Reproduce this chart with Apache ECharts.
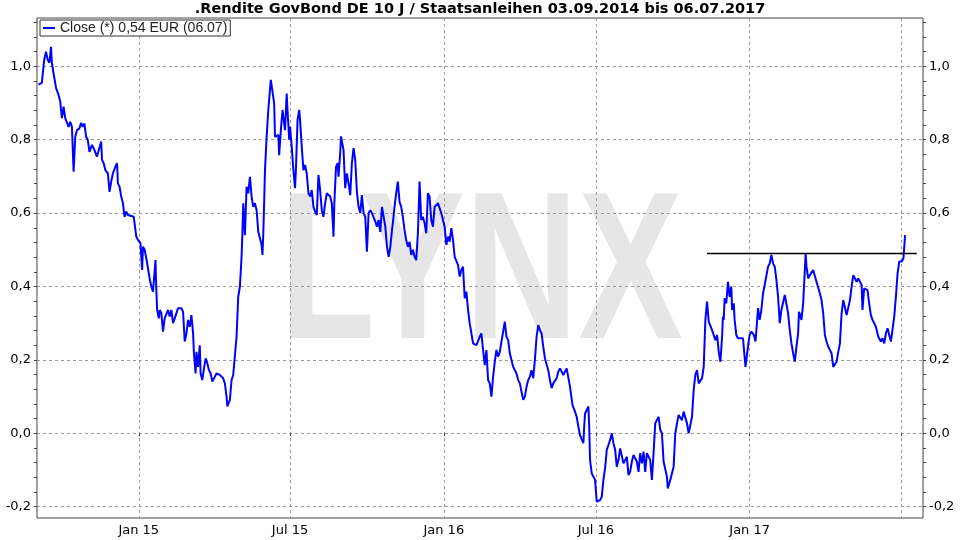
<!DOCTYPE html>
<html><head><meta charset="utf-8">
<script src="https://cdn.jsdelivr.net/npm/echarts@6/dist/echarts.min.js"></script>
<style>html,body{margin:0;padding:0;background:#fff}#c{width:960px;height:540px}</style>
</head><body><div id="c"></div>
<script>
const titleText = '.Rendite GovBond DE 10 J / Staatsanleihen 03.09.2014 bis 06.07.2017';
const seriesName = 'Close (*) 0,54 EUR (06.07)';
const watermarkText = 'LYNX';

const yLabelValues = [-0.2, 0, 0.2, 0.4, 0.6, 0.8, 1.0];
const yMinorValues = [-0.2,-0.16,-0.12,-0.08,-0.04,0,0.04,0.08,0.12,0.16,0.2,0.24,0.28,0.32,0.36,0.4,0.44,0.48,0.52,0.56,0.6,0.64,0.68,0.72,0.76,0.8,0.84,0.88,0.92,0.96,1.0,1.04,1.08,1.12];
const xTickDates = ['2015-01-01','2015-07-01','2016-01-01','2016-07-01','2017-01-01','2017-07-01'];
const xLabelDates = ['2015-01-01','2015-07-01','2016-01-01','2016-07-01','2017-01-01'];
const monthNames = ['Jan','Feb','Mär','Apr','Mai','Jun','Jul','Aug','Sep','Okt','Nov','Dez'];

const resistanceDates = ['2016-11-11','2017-07-20'];
const resistanceLevel = 0.49;

const d2014 = ['09-03','09-05','09-07','09-09','09-10','09-12','09-14','09-16','09-18','09-19','09-21','09-24','09-27','09-29',
'10-01','10-03','10-05','10-07','10-09','10-11','10-13','10-15','10-17','10-19','10-22','10-24','10-26','10-28','10-30',
'11-01','11-03','11-06','11-08','11-10','11-12','11-14','11-17','11-18','11-20','11-22','11-25','11-27','11-29',
'12-01','12-04','12-06','12-07','12-09','12-11','12-13','12-15','12-17','12-19','12-21','12-26','12-29','12-31'];
const v2014 = [0.95,0.95,0.955,1.00,1.02,1.04,1.017,1.01,1.053,1.009,0.981,0.941,0.922,0.904,
0.859,0.89,0.859,0.854,0.835,0.849,0.835,0.713,0.808,0.826,0.831,0.846,0.835,0.844,0.808,
0.799,0.767,0.786,0.777,0.781,0.754,0.758,0.795,0.745,0.736,0.717,0.708,0.658,0.686,
0.708,0.726,0.736,0.681,0.672,0.645,0.627,0.59,0.604,0.595,0.59,0.59,0.536,0.527];

const d2015 = ['01-03','01-05','01-06','01-08','01-10','01-12','01-14','01-16','01-18','01-21','01-22','01-23','01-25','01-26','01-28','01-30',
'02-01','02-03','02-05','02-07','02-09','02-11','02-13','02-15','02-17','02-21','02-23','02-25','02-27',
'03-01','03-03','03-05','03-07','03-08','03-10','03-11','03-13','03-15','03-16','03-18','03-20','03-22','03-24','03-26','03-28','03-30',
'04-02','04-04','04-08','04-12','04-14','04-16','04-17','04-20','04-22','04-24','04-26','04-28','04-30',
'05-02','05-04','05-05','05-06','05-08','05-10','05-12','05-14','05-16','05-18','05-20','05-22','05-24','05-26','05-28','05-29','05-30','05-31',
'06-01','06-03','06-05','06-07','06-08','06-10','06-12','06-13','06-15','06-17','06-18','06-20','06-22','06-23','06-25','06-27','06-28','06-30',
'07-01','07-03','07-05','07-07','07-08','07-10','07-12','07-13','07-15','07-17','07-19','07-21','07-23','07-25','07-27','07-29','07-31',
'08-02','08-04','08-06','08-08','08-10','08-12','08-14','08-16','08-18','08-20','08-22','08-23','08-25','08-27','08-28','08-30','08-31',
'09-03','09-05','09-07','09-09','09-11','09-13','09-15','09-17','09-19','09-21','09-23','09-25','09-27','09-29',
'10-01','10-03','10-05','10-07','10-09','10-11','10-13','10-15','10-17','10-19','10-21','10-23','10-25','10-27','10-29','10-31',
'11-01','11-03','11-05','11-07','11-09','11-11','11-13','11-15','11-17','11-19','11-21','11-23','11-25','11-27','11-29',
'12-01','12-03','12-05','12-07','12-09','12-11','12-13','12-15','12-17','12-19','12-21','12-23','12-25','12-27','12-29','12-31'];
const v2015 = [0.518,0.445,0.508,0.50,0.477,0.472,0.422,0.40,0.386,0.472,0.39,0.336,0.313,0.336,0.327,0.277,
0.313,0.318,0.336,0.318,0.336,0.30,0.313,0.318,0.341,0.341,0.331,0.25,0.272,
0.309,0.29,0.322,0.272,0.218,0.163,0.222,0.181,0.24,0.163,0.145,0.177,0.204,0.191,0.172,0.163,0.141,
0.154,0.163,0.159,0.15,0.136,0.10,0.073,0.091,0.145,0.159,0.163,0.263,0.372,
0.40,0.481,0.545,0.627,0.54,0.672,0.654,0.699,0.645,0.617,0.627,0.608,0.549,0.545,0.513,0.486,0.545,0.627,
0.717,0.808,0.881,0.886,0.963,0.931,0.899,0.808,0.804,0.813,0.758,0.826,0.881,0.863,0.826,0.926,0.881,0.80,
0.835,0.781,0.717,0.668,0.717,0.854,0.881,0.854,0.781,0.717,0.731,0.708,0.654,0.645,0.663,0.617,0.604,
0.595,0.704,0.663,0.608,0.59,0.627,0.654,0.658,0.645,0.627,0.536,0.627,0.726,0.736,0.699,0.763,0.809,
0.772,0.668,0.708,0.681,0.649,0.736,0.777,0.745,0.658,0.617,0.60,0.649,0.60,0.59,
0.495,0.60,0.608,0.60,0.604,0.577,0.563,0.581,0.549,0.617,0.59,0.563,0.508,0.481,0.508,0.554,
0.572,0.617,0.654,0.686,0.631,0.617,0.59,0.554,0.527,0.508,0.522,0.486,0.50,0.481,0.472,
0.545,0.686,0.581,0.59,0.572,0.545,0.654,0.645,0.581,0.563,0.617,0.617,0.627,0.622,0.60,0.581];

const d2016 = ['01-02','01-04','01-06','01-08','01-10','01-12','01-14','01-16','01-18','01-20','01-22','01-24','01-26','01-28','01-30',
'02-01','02-03','02-05','02-07','02-09','02-11','02-13','02-15','02-17','02-19','02-21','02-23','02-25','02-27','02-29',
'03-02','03-04','03-06','03-08','03-10','03-12','03-14','03-16','03-18','03-20','03-22','03-24','03-26','03-28','03-30',
'04-01','04-03','04-05','04-07','04-09','04-11','04-13','04-15','04-17','04-19','04-21','04-23','04-25','04-27','04-29',
'05-01','05-03','05-05','05-07','05-09','05-11','05-13','05-15','05-17','05-19','05-21','05-23','05-25','05-27','05-29','05-31',
'06-02','06-03','06-06','06-08','06-10','06-12','06-14','06-16','06-17','06-18','06-20','06-22','06-23','06-24','06-26','06-28','06-30',
'07-02','07-04','07-06','07-08','07-10','07-12','07-14','07-16','07-18','07-20','07-22','07-24','07-26','07-28','07-30',
'08-01','08-03','08-05','08-07','08-09','08-11','08-13','08-15','08-17','08-19','08-21','08-23','08-25','08-27','08-29','08-31',
'09-02','09-04','09-06','09-08','09-10','09-12','09-14','09-16','09-18','09-20','09-22','09-24','09-25','09-28','09-30',
'10-02','10-04','10-06','10-08','10-10','10-12','10-14','10-16','10-18','10-20','10-22','10-24','10-26','10-28','10-30',
'11-01','11-03','11-05','11-07','11-09','11-11','11-13','11-15','11-17','11-19','11-21','11-23','11-25','11-27','11-29','11-30',
'12-01','12-02','12-04','12-06','12-08','12-10','12-11','12-13','12-14','12-16','12-18','12-24','12-26','12-27','12-29','12-31'];
const v2016 = [0.563,0.513,0.536,0.522,0.559,0.527,0.481,0.486,0.459,0.427,0.445,0.454,0.368,0.386,0.336,
0.30,0.304,0.245,0.25,0.24,0.245,0.263,0.272,0.227,0.186,0.227,0.145,0.136,0.10,0.154,
0.195,0.227,0.209,0.222,0.25,0.277,0.304,0.263,0.254,0.218,0.213,0.181,0.172,0.163,0.145,
0.136,0.113,0.091,0.10,0.127,0.145,0.154,0.172,0.15,0.20,0.263,0.295,0.281,0.272,0.236,
0.204,0.209,0.172,0.145,0.123,0.136,0.132,0.15,0.168,0.177,0.172,0.159,0.154,0.177,0.181,0.127,
0.123,0.077,0.059,0.045,0.018,-0.005,-0.009,-0.027,0.018,0.054,0.05,0.073,0.018,-0.073,-0.109,-0.118,-0.127,
-0.186,-0.182,-0.182,-0.173,-0.127,-0.095,-0.045,-0.032,-0.018,0.0,-0.027,-0.045,-0.091,-0.073,-0.041,
-0.036,-0.082,-0.073,-0.064,-0.114,-0.105,-0.077,-0.059,-0.064,-0.077,-0.105,-0.054,-0.082,-0.05,-0.105,-0.054,
-0.05,-0.073,-0.127,-0.054,0.027,0.032,0.045,0.009,0.0,-0.077,-0.082,-0.118,-0.15,-0.127,-0.123,
-0.091,0.0,0.027,0.05,0.054,0.036,0.059,0.054,0.027,0.0,0.005,0.045,0.118,0.159,0.172,
0.136,0.141,0.15,0.181,0.309,0.359,0.304,0.30,0.281,0.286,0.254,0.268,0.222,0.195,0.263,0.318,
0.309,0.368,0.354,0.413,0.372,0.40,0.336,0.354,0.309,0.268,0.259,0.259,0.254,0.181,0.181,0.254];

const d2017 = ['01-01','01-03','01-06','01-08','01-10','01-11','01-13','01-15','01-17','01-19','01-21','01-23','01-25','01-27','01-29','01-31',
'02-02','02-04','02-06','02-08','02-10','02-12','02-14','02-16','02-18','02-20','02-22','02-24','02-26','02-28',
'03-01','03-03','03-04','03-06','03-08','03-09','03-10','03-12','03-14','03-16','03-18','03-20','03-22','03-24','03-26','03-28','03-30',
'04-01','04-03','04-05','04-07','04-09','04-11','04-13','04-15','04-17','04-19','04-21','04-23','04-25','04-27','04-29',
'05-01','05-03','05-05','05-07','05-09','05-11','05-13','05-15','05-16','05-18','05-20','05-22','05-24','05-26','05-28','05-30',
'06-01','06-02','06-04','06-06','06-07','06-09','06-11','06-13','06-15','06-17','06-19','06-21','06-23','06-25','06-27','06-29',
'07-02','07-04','07-06'];
const v2017 = [0.268,0.277,0.268,0.25,0.309,0.341,0.309,0.336,0.381,0.404,0.409,0.454,0.463,0.486,0.463,0.454,
0.418,0.372,0.30,0.336,0.341,0.377,0.377,0.327,0.281,0.245,0.218,0.195,0.236,0.272,
0.331,0.318,0.309,0.354,0.445,0.49,0.454,0.422,0.431,0.436,0.445,0.45,0.413,0.409,0.381,0.363,0.327,
0.268,0.25,0.236,0.227,0.218,0.181,0.186,0.195,0.222,0.245,0.327,0.363,0.359,0.322,0.318,
0.363,0.40,0.431,0.436,0.413,0.422,0.422,0.404,0.336,0.395,0.395,0.39,0.354,0.322,0.309,0.30,
0.29,0.281,0.263,0.268,0.25,0.259,0.245,0.272,0.286,0.268,0.25,0.254,0.318,0.372,0.436,0.468,
0.468,0.477,0.54];

function ts(s) { const p = s.split('-').map(Number); return new Date(p[0], p[1] - 1, p[2]).getTime(); }
function build(year, ds, vs) { return ds.map((d, i) => [ts(year + '-' + d), vs[i]]); }
const closeData = [].concat(build(2014, d2014, v2014), build(2015, d2015, v2015), build(2016, d2016, v2016), build(2017, d2017, v2017));
const resistanceData = resistanceDates.map(d => [ts(d), resistanceLevel]);

const xMin = new Date(2014, 8, 1, 5).getTime();
const xMax = new Date(2017, 6, 27, 10).getTime();
const yMin = -0.2308, yMax = 1.1316;

const gridColor = '#9a9a9a';
const frameColor = '#444';
const labelFont = { fontFamily: 'DejaVu Sans', fontSize: 13, color: '#000' };
const fmtY = v => (Math.round(v * 10) / 10).toFixed(1).replace('.', ',');
const fmtX = v => { const d = new Date(v); return monthNames[d.getMonth()] + ' ' + String(d.getFullYear()).slice(2); };

function yAx(pos, withLabels) {
  return {
    type: 'value', position: pos, min: yMin, max: yMax,
    axisLine: { show: false },
    axisTick: { show: true, customValues: withLabels ? yLabelValues : yMinorValues, length: 3, lineStyle: { color: frameColor } },
    axisLabel: withLabels ? Object.assign({ show: true, customValues: yLabelValues, formatter: fmtY, margin: 6 }, labelFont) : { show: false },
    splitLine: (withLabels && pos === 'left') ? { show: true, lineStyle: { type: [3, 3], color: gridColor, width: 1 } } : { show: false }
  };
}

const chart = echarts.init(document.getElementById('c'), null, { renderer: 'canvas' });
chart.setOption({
  animation: false,
  backgroundColor: '#fff',
  title: { text: titleText, left: 'center', top: 0, padding: [2, 0, 0, 0],
    textStyle: { fontFamily: 'DejaVu Sans', fontWeight: 'bold', fontSize: 14.5, color: '#000' } },
  legend: { data: [seriesName], left: 40, top: 20, padding: [1, 3, 1, 3], itemWidth: 12, itemHeight: 2, icon: 'rect',
    backgroundColor: '#fff', borderColor: '#333', borderWidth: 1, borderRadius: 0, selectedMode: false,
    textStyle: { fontFamily: 'Liberation Sans', fontSize: 14, color: '#222', lineHeight: 14 } },
  grid: { left: 37, right: 37, top: 18, bottom: 22, show: true, borderColor: frameColor, borderWidth: 1, backgroundColor: 'transparent' },
  graphic: { elements: [{ type: 'text', x: 481, y: 280, scaleX: 0.75, z: -10, silent: true,
    style: { text: watermarkText, x: 0, y: 0, align: 'center', verticalAlign: 'middle', fill: '#e6e6e6',
      font: 'bold 209px "Liberation Sans"' } }] },
  xAxis: {
    type: 'value', min: xMin, max: xMax, scale: true,
    axisLine: { show: false },
    axisTick: { show: true, customValues: xTickDates.map(ts), length: 3, lineStyle: { color: frameColor } },
    axisLabel: Object.assign({ customValues: xLabelDates.map(ts), margin: 6, formatter: fmtX }, labelFont),
    splitLine: { show: true, lineStyle: { type: [3, 3], color: gridColor, width: 1 } }
  },
  yAxis: [yAx('left', true), yAx('right', true), yAx('left', false), yAx('right', false)],
  series: [
    { type: 'line', name: seriesName, data: closeData, symbol: 'none', showSymbol: false, z: 3,
      lineStyle: { color: '#0000ff', width: 2 }, itemStyle: { color: '#0000ff' } },
    { type: 'line', name: 'Widerstand', data: resistanceData, symbol: 'none', silent: true, z: 4,
      lineStyle: { color: '#000', width: 1.5 }, itemStyle: { color: '#000' } }
  ]
});
</script></body></html>
